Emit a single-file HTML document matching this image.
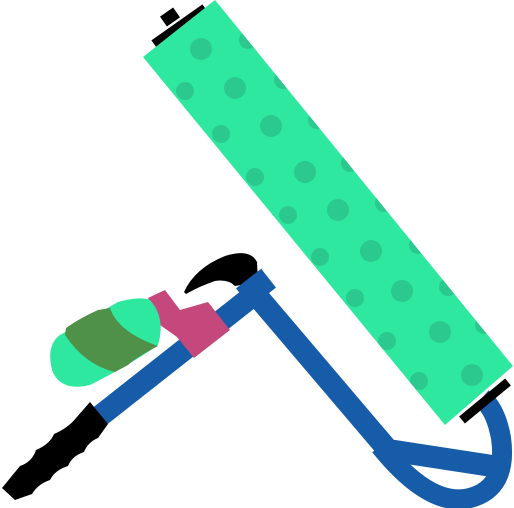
<!DOCTYPE html>
<html><head><meta charset="utf-8"><style>html,body{margin:0;padding:0;background:#fff}svg{display:block}</style></head>
<body>
<svg width="514" height="508" viewBox="0 0 514 508">
  <defs><clipPath id="rc"><polygon points="143,57 215,0 513,366 445,425"/></clipPath></defs>
  <path d="M184,292 Q195,268 225,256 Q250,248 257,262 L258,282 L235,286 Q228,279 215,281 Q200,286 186,294 Z" fill="#000"/>
  <g fill="none" stroke="#175ca8" stroke-width="22">
    <line x1="95" y1="420" x2="260" y2="290"/>
    <polyline points="252,290 388,450 492,466" stroke-linejoin="miter"/>
    <path d="M380,446 Q430,508 470,498 Q508,488 501,438 Q496,410 482,398" stroke-width="20"/>
  </g>
  <rect x="240" y="276" width="32" height="24" fill="#175ca8" transform="rotate(-38 256 288)"/>
  <polygon points="148,298 165,290 180,310 208,302 230,330 194,358 177,337 160,325" fill="#c4487c"/>
  <g>
    <path d="M60,335 Q90,318 118,302 Q140,296 150,300 Q166,318 158,345 Q130,365 90,385 Q60,392 52,370 Q46,345 60,335 Z" fill="#2fe89f"/>
    <path d="M66,328 Q80,318 98,310 L110,308 Q118,332 158,346 Q135,358 128,365 L115,372 Q85,365 65,335 Z" fill="#4f9148"/>
  </g>
  <path d="M2,488 L20,466 Q32,462 36,450 Q50,444 54,434 Q68,428 76,418 L90,402 L108,424 L98,438 Q88,442 84,452 Q72,456 68,466 Q55,470 50,480 Q38,484 32,494 L15,500 Z" fill="#000"/>
  <g>
    <line x1="154" y1="44" x2="205" y2="8" stroke="#000" stroke-width="9"/>
    <rect x="162" y="11" width="16" height="12" fill="#000" transform="rotate(-35 170 17)"/>
    <line x1="462" y1="420" x2="508" y2="382" stroke="#000" stroke-width="9"/>
    <polygon points="143,57 215,0 513,366 445,425" fill="#2fe89f"/>
    <g fill="#2bc98d" clip-path="url(#rc)">
      <circle cx="201" cy="49" r="11"/><circle cx="248" cy="40" r="9"/><circle cx="185" cy="91" r="9"/>
      <circle cx="235" cy="88" r="11"/><circle cx="283" cy="80" r="9"/><circle cx="221" cy="134" r="9"/>
      <circle cx="271" cy="126" r="11"/><circle cx="317" cy="120" r="9"/><circle cx="255" cy="177" r="9"/>
      <circle cx="305" cy="172" r="11"/><circle cx="350" cy="163" r="9"/><circle cx="288" cy="215" r="9"/>
      <circle cx="338" cy="210" r="11"/><circle cx="384" cy="203" r="9"/><circle cx="320" cy="257" r="9"/>
      <circle cx="371" cy="251" r="11"/><circle cx="418" cy="245" r="9"/><circle cx="355" cy="298" r="9"/>
      <circle cx="402" cy="291" r="11"/><circle cx="448" cy="287" r="9"/><circle cx="387" cy="341" r="9"/>
      <circle cx="440" cy="332" r="11"/><circle cx="484" cy="325" r="9"/><circle cx="419" cy="381" r="9"/>
      <circle cx="472" cy="375" r="11"/>
    </g>
  </g>
</svg>
</body></html>
